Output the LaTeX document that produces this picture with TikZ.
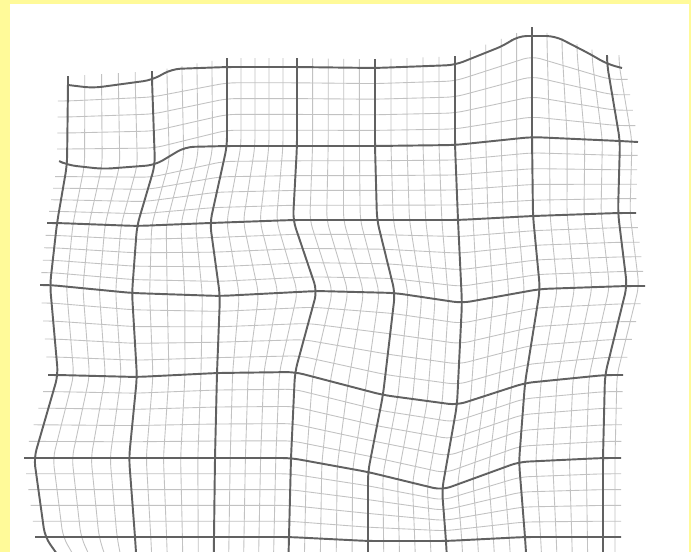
\documentclass[tikz,border=0pt]{standalone}
\usetikzlibrary{calc}
\tikzset{
  major/.style={black!62, line width=1.1pt, rounded corners=5pt},
  minor/.style={black!24, line width=0.5pt, rounded corners=5pt}
}
\begin{document}
\begin{tikzpicture}[x=0.02cm, y=-0.02cm]
  \fill[yellow!40] (0,0) rectangle (691,552);
  \fill[white] (10,4) rectangle (689,552);
  \useasboundingbox (0,0) rectangle (691,552);
  \clip (10,4) rectangle (689,552);
  \foreach \i/\j/\x/\y in {
    0/0/68/85, 1/0/152/80, 2/0/227/67, 3/0/297/67, 4/0/375/68, 5/0/455/65, 6/0/532/36, 7/0/607/64,
    0/1/67/165, 1/1/155/165, 2/1/227/146, 3/1/297/146, 4/1/375/146, 5/1/455/145, 6/1/532/137, 7/1/620/141,
    0/2/57/223, 1/2/137/226, 2/2/210/223, 3/2/293/220, 4/2/377/220, 5/2/458/220, 6/2/533/216, 7/2/618/213,
    0/3/50/285, 1/3/132/293, 2/3/220/296, 3/3/317/291, 4/3/395/293, 5/3/462/303, 6/3/540/289, 7/3/627/286,
    0/4/58/375, 1/4/137/377, 2/4/217/373, 3/4/295/372, 4/4/383/395, 5/4/457/405, 6/4/525/383, 7/4/605/375,
    0/5/34/458, 1/5/129/458, 2/5/215/458, 3/5/291/458, 4/5/368/472, 5/5/442/490, 6/5/519/462, 7/5/603/458,
    0/6/45/537, 1/6/135/537, 2/6/214/537, 3/6/289/537, 4/6/368/541, 5/6/446/541, 6/6/525/537, 7/6/603/537,
    0/7/100/615, 1/7/140/615, 2/7/213/615, 3/7/287/615, 4/7/368/615, 5/7/450/615, 6/7/530/615, 7/7/603/615}
    \coordinate (g-\i-\j) at (\x,\y);
  \foreach \i in {0,...,6} {
    \pgfmathtruncatemacro\ii{\i+1}
    \foreach \s in {0.2,0.4,0.6,0.8}
      \draw[minor] ($(g-\i-0)!\s!(g-\ii-0)+(0,-8)$) \foreach \j in {0,...,7} { -- ($(g-\i-\j)!\s!(g-\ii-\j)$) };
  }
  \draw[minor] ($(g-7-0)+(12,-8)$) \foreach \j in {0,...,7} { -- ($(g-7-\j)+(12,0)$) };
  \foreach \j in {0,...,6} {
    \pgfmathtruncatemacro\jj{\j+1}
    \foreach \t in {0.2,0.4,0.6,0.8}
      \draw[minor] ($(g-0-\j)!\t!(g-0-\jj)+(-10,0)$) \foreach \i in {0,...,7} { -- ($(g-\i-\j)!\t!(g-\i-\jj)$) } -- ++(18,0);
  }
  \foreach \i in {0,...,7}
    \draw[major] ($(g-\i-0)+(0,-8)$) \foreach \j in {0,...,7} { -- (g-\i-\j) };
  \draw[major] (g-0-0) -- (93,88) -- (g-1-0) -- (172,69) -- (g-2-0) -- (g-3-0) -- (g-4-0) -- (g-5-0)
    -- (505,45) -- (518,36) -- (555,36) -- (590,54) -- (g-7-0) -- ++(15,4);
  \draw[major] ($(g-0-1)+(-4,-2)$) -- (g-0-1) -- (103,169) -- (g-1-1) -- (185,147) -- (g-2-1)
    \foreach \i in {3,...,7} { -- (g-\i-1) } -- ++(18,1);
  \foreach \j in {2,...,6}
    \draw[major] ($(g-0-\j)+(-10,0)$) \foreach \i in {0,...,7} { -- (g-\i-\j) } -- ++(18,0);
\end{tikzpicture}
\end{document}
